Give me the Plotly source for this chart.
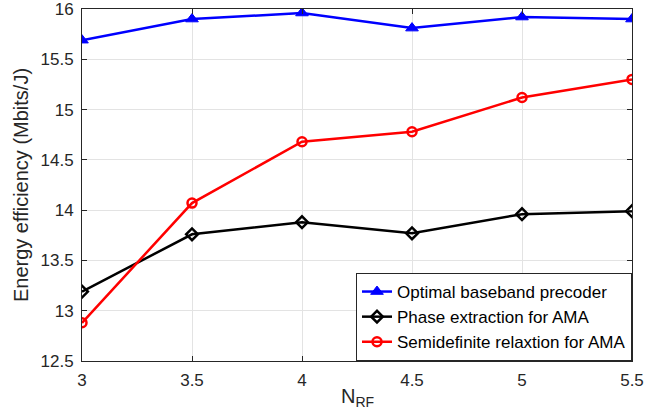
import plotly.graph_objects as go

n_rf = [3, 3.5, 4, 4.5, 5, 5.5]
optimal = [15.69, 15.90, 15.96, 15.81, 15.92, 15.90]
phase_ext = [13.19, 13.76, 13.88, 13.77, 13.96, 13.99]
sdr = [12.88, 14.07, 14.68, 14.78, 15.12, 15.30]

x_ticks = [3, 3.5, 4, 4.5, 5, 5.5]
x_ticktext = ["3", "3.5", "4", "4.5", "5", "5.5"]
y_ticks = [12.5, 13, 13.5, 14, 14.5, 15, 15.5, 16]
y_ticktext = ["12.5", "13", "13.5", "14", "14.5", "15", "15.5", "16"]

names = ["Optimal baseband precoder", "Phase extraction for AMA", "Semidefinite relaxtion for AMA"]

FONT = "Liberation Sans, Arial, sans-serif"
TXT = "#262626"

fig = go.Figure()
fig.add_trace(go.Scatter(x=n_rf, y=optimal, mode="lines+markers", name=names[0],
                         line=dict(color="#0000ff", width=2.5),
                         marker=dict(symbol="triangle-up", size=11, color="#0000ff",
                                     line=dict(color="#0000ff", width=1))))
fig.add_trace(go.Scatter(x=n_rf, y=phase_ext, mode="lines+markers", name=names[1],
                         line=dict(color="#000000", width=2.5),
                         marker=dict(symbol="diamond-open", size=9, color="#000000",
                                     line=dict(color="#000000", width=2.5))))
fig.add_trace(go.Scatter(x=n_rf, y=sdr, mode="lines+markers", name=names[2],
                         line=dict(color="#ff0000", width=2.5),
                         marker=dict(symbol="circle-open", size=9, color="#ff0000",
                                     line=dict(color="#ff0000", width=2.5))))

axis_common = dict(showline=True, linecolor=TXT, linewidth=1, mirror="ticks",
                   ticks="inside", ticklen=5, tickcolor=TXT, automargin=False,
                   ticklabeloverflow="allow",
                   showgrid=True, gridcolor="#e3e3e3", gridwidth=1, zeroline=False,
                   tickfont=dict(family=FONT, size=17, color=TXT))

fig.update_layout(
    width=672, height=418,
    margin=dict(l=82, r=40, t=9, b=57),
    paper_bgcolor="white", plot_bgcolor="white",
    font=dict(family=FONT, color=TXT),
    xaxis=dict(range=[3, 5.5], tickvals=x_ticks, ticktext=x_ticktext, ticklabelstandoff=4,
               **axis_common),
    yaxis=dict(range=[12.5, 16], tickvals=y_ticks, ticktext=y_ticktext, ticklabelstandoff=4,
               title=dict(text="Energy efficiency (Mbits/J)", font=dict(size=20, color=TXT), standoff=6),
               **axis_common),
    legend=dict(x=1, y=0, xanchor="right", yanchor="bottom",
                bgcolor="white", bordercolor=TXT, borderwidth=1,
                font=dict(size=17, color="#000000"), tracegroupgap=0),
    showlegend=True,
    annotations=[dict(text="N<sub>RF</sub>", xref="paper", yref="paper", x=0.5, y=0,
                      xanchor="center", yanchor="top", yshift=-22, showarrow=False,
                      font=dict(family=FONT, size=20, color=TXT))],
)

fig.write_html("out.html", config={"displayModeBar": False},
               post_script="document.body.style.margin='0';")
